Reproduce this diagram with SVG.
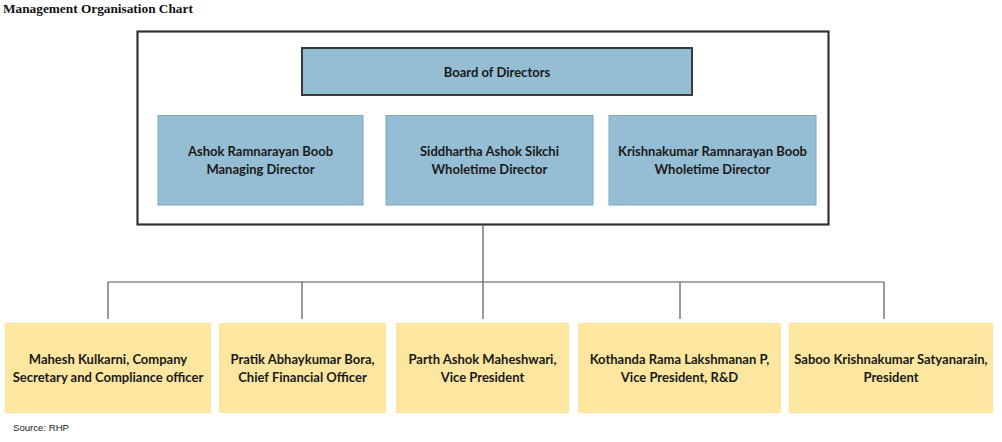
<svg xmlns="http://www.w3.org/2000/svg" width="1002" height="442" viewBox="0 0 1002 442">
<style>
.title{font-family:"Liberation Serif",serif;font-weight:bold;font-size:13.3px;fill:#111}
.lbl{font-family:Lato,"Liberation Sans",sans-serif;font-weight:bold;font-size:13px;fill:#1a1a1a;text-anchor:middle}
.blue{fill:#95bdd3;stroke:#7ea6bd;stroke-width:1}
.yel{fill:#fce6a0;stroke:none}
.conn{stroke:#555;stroke-width:1.2;fill:none}
.src{font-family:"Liberation Sans",sans-serif;font-size:9.6px;fill:#222}
</style>
<rect width="1002" height="442" fill="#fff"/>
<text class="title" x="3" y="13">Management Organisation Chart</text>
<rect id="frame" x="137.5" y="31.5" width="691" height="193" fill="none" stroke="#333" stroke-width="2.2"/>
<g id="connectors">
<path class="conn" d="M483 225 V282 M108 282 H884 M108 282 V319 M302 282 V319 M483 282 V319 M680 282 V319 M884 282 V319"/>
</g>
<g id="board">
<rect x="302" y="48" width="390" height="47" fill="#95bdd3" stroke="#3a3a3a" stroke-width="2"/>
<text class="lbl" x="497" y="77">Board of Directors</text>
</g>
<g id="ashok">
<rect class="blue" x="158" y="115.5" width="205" height="89.5"/>
<text class="lbl" x="260.5" y="156">Ashok Ramnarayan Boob</text>
<text class="lbl" x="260.5" y="174">Managing Director</text>
</g>
<g id="siddhartha">
<rect class="blue" x="386" y="115.5" width="207" height="89.5"/>
<text class="lbl" x="489.5" y="156">Siddhartha Ashok Sikchi</text>
<text class="lbl" x="489.5" y="174">Wholetime Director</text>
</g>
<g id="krishnakumar">
<rect class="blue" x="609" y="115.5" width="207" height="89.5"/>
<text class="lbl" x="712.5" y="156">Krishnakumar Ramnarayan Boob</text>
<text class="lbl" x="712.5" y="174">Wholetime Director</text>
</g>
<g id="mahesh">
<rect class="yel" x="5" y="323" width="206" height="90"/>
<text class="lbl" x="108" y="364">Mahesh Kulkarni, Company</text>
<text class="lbl" x="108" y="382">Secretary and Compliance officer</text>
</g>
<g id="pratik">
<rect class="yel" x="219" y="323" width="167" height="90"/>
<text class="lbl" x="302.5" y="364">Pratik Abhaykumar Bora,</text>
<text class="lbl" x="302.5" y="382">Chief Financial Officer</text>
</g>
<g id="parth">
<rect class="yel" x="396" y="323" width="173" height="90"/>
<text class="lbl" x="482.5" y="364">Parth Ashok Maheshwari,</text>
<text class="lbl" x="482.5" y="382">Vice President</text>
</g>
<g id="kothanda">
<rect class="yel" x="578" y="323" width="203" height="90"/>
<text class="lbl" x="679.5" y="364">Kothanda Rama Lakshmanan P,</text>
<text class="lbl" x="679.5" y="382">Vice President, R&amp;D</text>
</g>
<g id="saboo">
<rect class="yel" x="789" y="323" width="204" height="90"/>
<text class="lbl" x="891" y="364">Saboo Krishnakumar Satyanarain,</text>
<text class="lbl" x="891" y="382">President</text>
</g>
<text class="src" x="13" y="431">Source: RHP</text>
</svg>
